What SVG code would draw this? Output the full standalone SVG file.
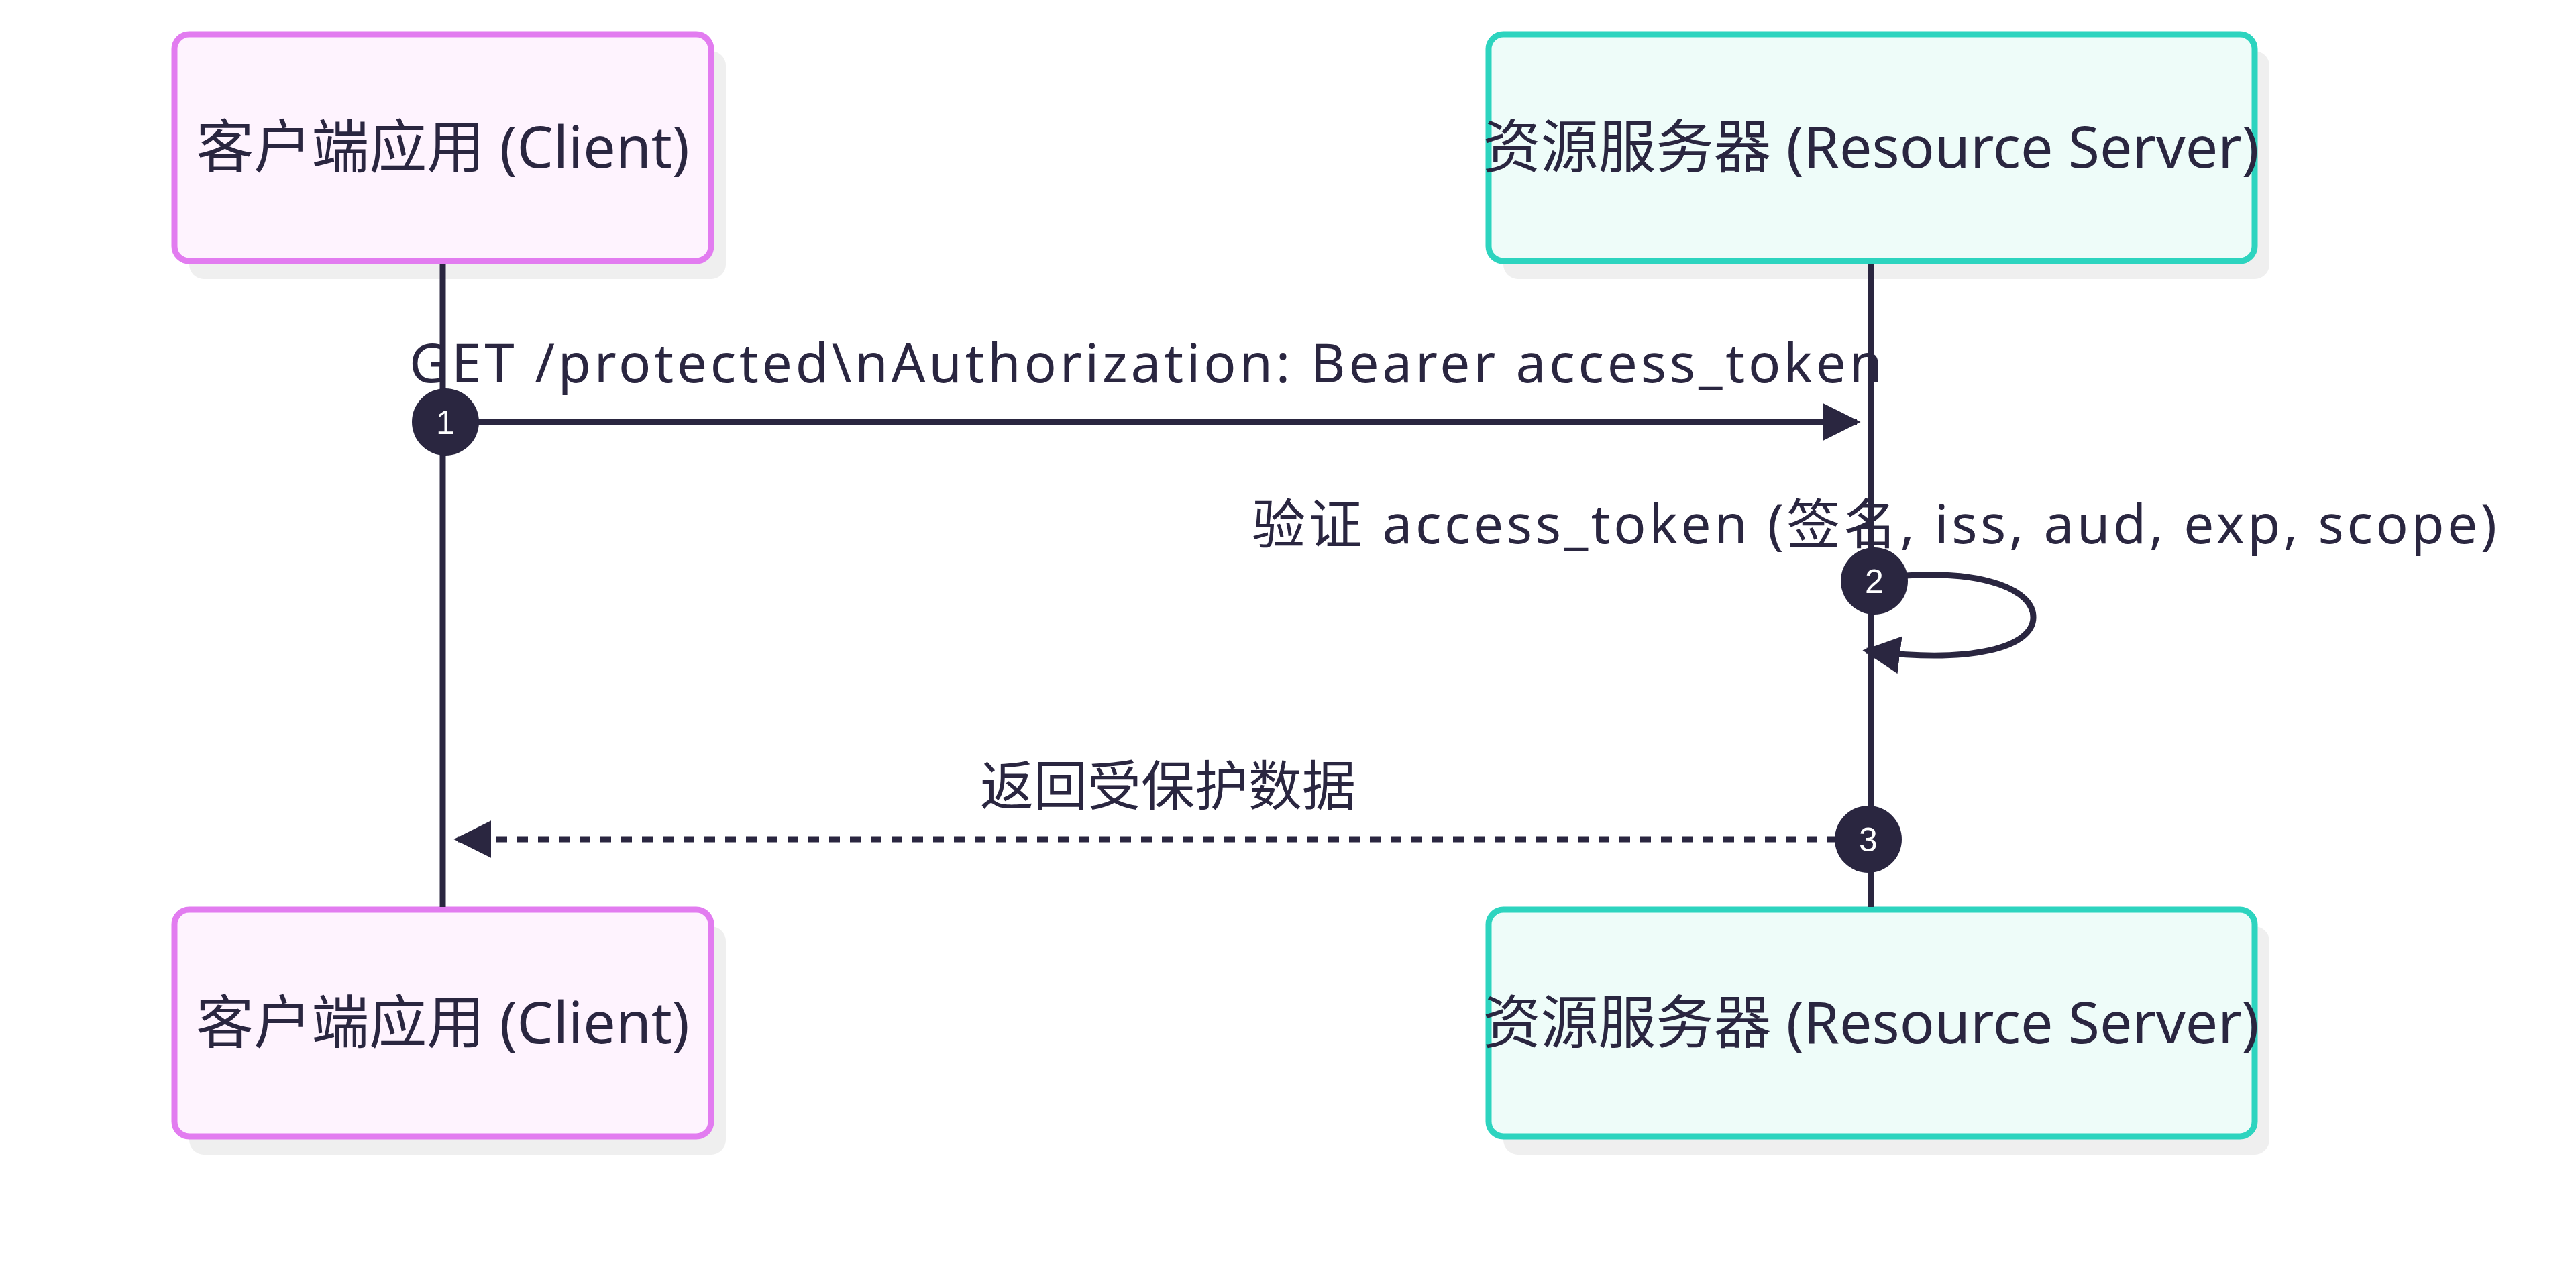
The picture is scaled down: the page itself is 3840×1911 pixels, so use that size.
<svg xmlns="http://www.w3.org/2000/svg" width="3840" height="1911" viewBox="0 0 3840 1911">
<style>
text{font-family:"Noto Sans","Noto Sans CJK SC",sans-serif;fill:#2a2640;font-size:80px}
.bt{font-size:86px}
.c{fill:#fef3fe;stroke:#e27cf0;stroke-width:9}
.s{fill:#eefcf9;stroke:#2dd4bf;stroke-width:9}
.sh{fill:#efefef}
.l{stroke:#2a2640;stroke-width:9;fill:none}
.n{fill:#2a2640}
.nt{fill:#fff;font-family:"Liberation Sans",sans-serif;font-size:50px}
</style>
<defs>
<marker id="ah" viewBox="0 0 10 10" refX="9" refY="5" markerWidth="56" markerHeight="56" markerUnits="userSpaceOnUse" orient="auto">
<path d="M0,0L10,5L0,10z" fill="#2a2640"/>
</marker>
</defs>
<g id="client-top">
<rect class="sh" x="282" y="76" width="800" height="340" rx="22"/>
<rect class="c" x="260" y="51" width="800" height="338" rx="22"/>
<text class="bt" x="660" y="250" text-anchor="middle">客户端应用 (Client)</text>
</g>
<g id="server-top">
<rect class="sh" x="2241" y="76" width="1142" height="340" rx="22"/>
<rect class="s" x="2219" y="51" width="1142" height="338" rx="22"/>
<text class="bt" x="2789" y="250" text-anchor="middle">资源服务器 (Resource Server)</text>
</g>
<g id="client-bottom">
<rect class="sh" x="282" y="1381" width="800" height="340" rx="22"/>
<rect class="c" x="260" y="1356" width="800" height="338" rx="22"/>
<text class="bt" x="660" y="1555" text-anchor="middle">客户端应用 (Client)</text>
</g>
<g id="server-bottom">
<rect class="sh" x="2241" y="1381" width="1142" height="340" rx="22"/>
<rect class="s" x="2219" y="1356" width="1142" height="338" rx="22"/>
<text class="bt" x="2789" y="1555" text-anchor="middle">资源服务器 (Resource Server)</text>
</g>
<g id="connectors">
<line class="l" x1="660" y1="394" x2="660" y2="1352"/>
<line class="l" x1="2789" y1="394" x2="2789" y2="1352"/>
<line class="l" x1="664" y1="629" x2="2768" y2="629" marker-end="url(#ah)"/>
<text x="1708" y="570" text-anchor="middle" textLength="2196">GET /protected\nAuthorization: Bearer access_token</text>
<path class="l" d="M2840,858 C2960,850 3031,880 3031,920 C3031,965 2940,990 2782,970" marker-end="url(#ah)"/>
<text x="2794" y="810" text-anchor="middle" textLength="1856">验证 access_token (签名, iss, aud, exp, scope)</text>
<line class="l" x1="2740" y1="1251" x2="682" y2="1251" stroke-dasharray="16,15" marker-end="url(#ah)"/>
<text x="1741" y="1200" text-anchor="middle">返回受保护数据</text>
<circle class="n" cx="664" cy="629" r="50"/>
<text class="nt" x="664" y="647" text-anchor="middle">1</text>
<circle class="n" cx="2794" cy="866" r="50"/>
<text class="nt" x="2794" y="884" text-anchor="middle">2</text>
<circle class="n" cx="2785" cy="1251" r="50"/>
<text class="nt" x="2785" y="1269" text-anchor="middle">3</text>
</g>
</svg>
